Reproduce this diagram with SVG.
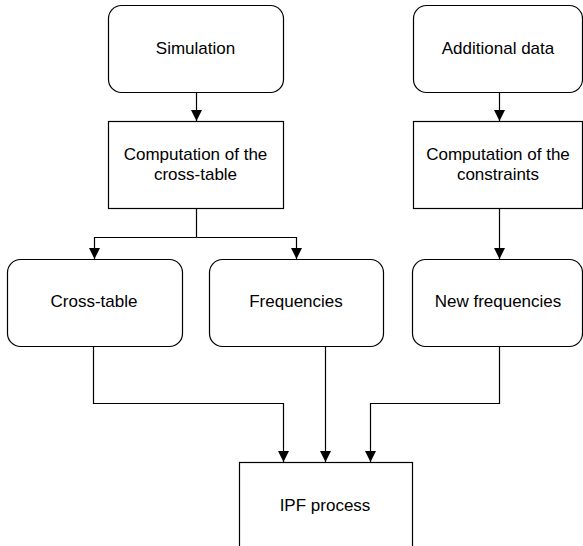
<svg xmlns="http://www.w3.org/2000/svg" width="583" height="546" viewBox="0 0 583 546">
<style>
.box{fill:#fff;stroke:#000;stroke-width:1.2}
.lbl{font-family:"Liberation Sans",Arial,sans-serif;font-size:17px;fill:#000;text-anchor:middle}
.edge{fill:none;stroke:#000;stroke-width:1.2;marker-end:url(#arr)}
.line{fill:none;stroke:#000;stroke-width:1.2}
</style>
<defs>
<marker id="arr" markerUnits="userSpaceOnUse" markerWidth="11" markerHeight="11" refX="10" refY="5" orient="auto" viewBox="0 0 10 10">
<path d="M0,0 L10,5 L0,10 z" fill="#000"/>
</marker>
</defs>
<rect width="583" height="546" fill="#fff"/>
<g id="connectors">
<path class="edge" d="M196.5,92.5 V121"/>
<path class="edge" d="M499.5,92.5 V121"/>
<path class="line" d="M196.5,208.5 V237.5"/>
<path class="edge" d="M196.5,237.5 H94.5 V259"/>
<path class="edge" d="M196.5,237.5 H296.5 V259"/>
<path class="edge" d="M499.5,208.5 V259"/>
<path class="edge" d="M93.5,346.5 V403.5 H283.5 V462"/>
<path class="edge" d="M325.5,346.5 V462"/>
<path class="edge" d="M499.5,346.5 V403.5 H370.5 V462"/>
</g>
<g id="simulation">
<rect class="box" x="108.5" y="5.5" width="175" height="87" rx="13"/>
<text class="lbl" x="195.5" y="54">Simulation</text>
</g>
<g id="additional-data">
<rect class="box" x="413.5" y="5.5" width="169" height="87" rx="13"/>
<text class="lbl" x="498" y="54">Additional data</text>
</g>
<g id="computation-cross-table">
<rect class="box" x="108.5" y="121.5" width="175" height="87"/>
<text class="lbl" x="195.5" y="160">Computation of the</text>
<text class="lbl" x="195.5" y="180">cross-table</text>
</g>
<g id="computation-constraints">
<rect class="box" x="413.5" y="121.5" width="169" height="87"/>
<text class="lbl" x="498" y="160">Computation of the</text>
<text class="lbl" x="498" y="180">constraints</text>
</g>
<g id="cross-table">
<rect class="box" x="7.5" y="259.5" width="175" height="87" rx="13"/>
<text class="lbl" x="94" y="307">Cross-table</text>
</g>
<g id="frequencies">
<rect class="box" x="209.5" y="259.5" width="174" height="87" rx="13"/>
<text class="lbl" x="296" y="307">Frequencies</text>
</g>
<g id="new-frequencies">
<rect class="box" x="412.5" y="259.5" width="170" height="87" rx="13"/>
<text class="lbl" x="498" y="307">New frequencies</text>
</g>
<g id="ipf-process">
<rect class="box" x="239.5" y="462.5" width="173" height="90"/>
<text class="lbl" x="325" y="511">IPF process</text>
</g>
</svg>
